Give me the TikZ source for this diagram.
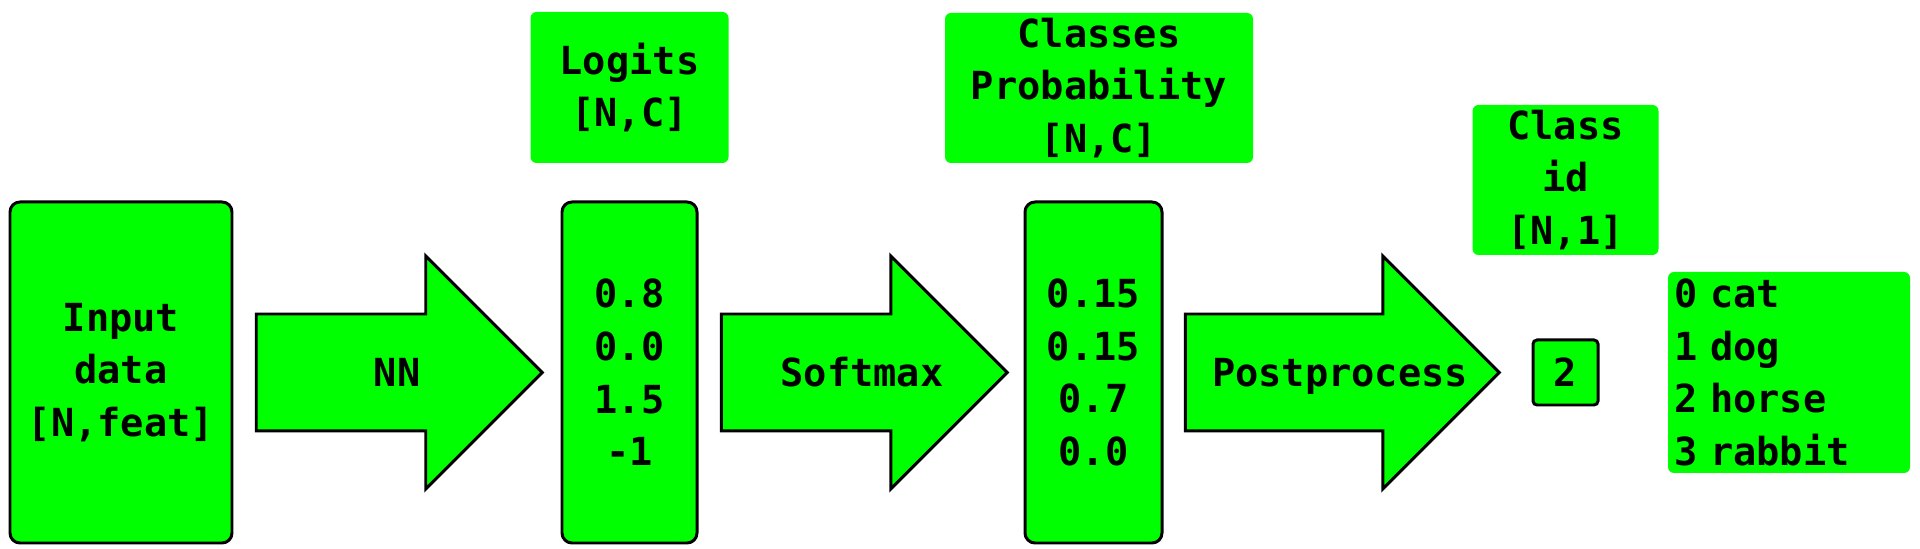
\documentclass[tikz,border=0pt]{standalone}
\usepackage{fontspec}
\setmonofont{DejaVu Sans Mono}
\usetikzlibrary{shapes,arrows}
\definecolor{boxgreen}{HTML}{00FF00}
\tikzstyle{r} = [rectangle, rounded corners=0.2cm, draw=black, line width=1.7pt, fill=boxgreen, inner sep=0pt, align=center]
\tikzstyle{g} = [rectangle, rounded corners=0.12cm, fill=boxgreen, inner sep=0pt, align=center]
\tikzstyle{ar} = [single arrow, draw=black, line width=1.7pt, fill=boxgreen, single arrow head extend=1.16cm, text height=0.6cm, text depth=0.04cm, inner xsep=0pt, inner ysep=0.82cm]

\begin{document}
\begin{tikzpicture}[node distance=4.65cm, font=\ttfamily\bfseries\fontsize{22}{30}\selectfont]
			\useasboundingbox (-2.42,-3.53) rectangle (35.98,7.45);
			\node[r, minimum width=4.44cm, minimum height=6.82cm](1){Input\\data\\{[N,feat]}};
			\node[ar, minimum height=5.72cm, right of=1, xshift=0.33cm](2){\makebox[0pt]{\hspace*{1.08cm}NN}};
			\node[r, minimum width=2.7cm, minimum height=6.82cm, right of=2, xshift=0.54cm](3){0.8\\0.0\\1.5\\-1};
			\node[g, minimum width=3.96cm, minimum height=3.02cm, above of=3, yshift=1.05cm](4){Logits\\{[N,C]}};
			\node[ar, minimum height=5.72cm, right of=3, xshift=-0.54cm](5){\makebox[0pt]{\hspace*{1.08cm}Softmax}};
			\node[r, minimum width=2.74cm, minimum height=6.82cm, right of=5, xshift=0.52cm](6){0.15\\0.15\\0.7\\0.0};
			\node[g, minimum width=6.16cm, minimum height=3cm, above of=6, yshift=1.04cm, xshift=0.11cm](7){Classes\\Probability\\{[N,C]}};
			\node[ar, minimum height=6.28cm, right of=6, xshift=-0.26cm](8){\makebox[0pt]{\hspace*{1.08cm}Postprocess}};
			\node[r, rounded corners=0.08cm, minimum width=1.3cm, minimum height=1.3cm, right of=8, xshift=0.4cm](10){2};
			\node[g, minimum width=3.72cm, minimum height=3cm, above of=10, yshift=-0.8cm](9){Class\\id\\{[N,1]}};
			\node[g, text width=4.6cm, inner xsep=0.12cm, minimum height=4.02cm, align=left, right of=10, xshift=-0.18cm](11){0 cat\\1 dog\\2 horse\\3 rabbit};
		\end{tikzpicture}
\end{document}
